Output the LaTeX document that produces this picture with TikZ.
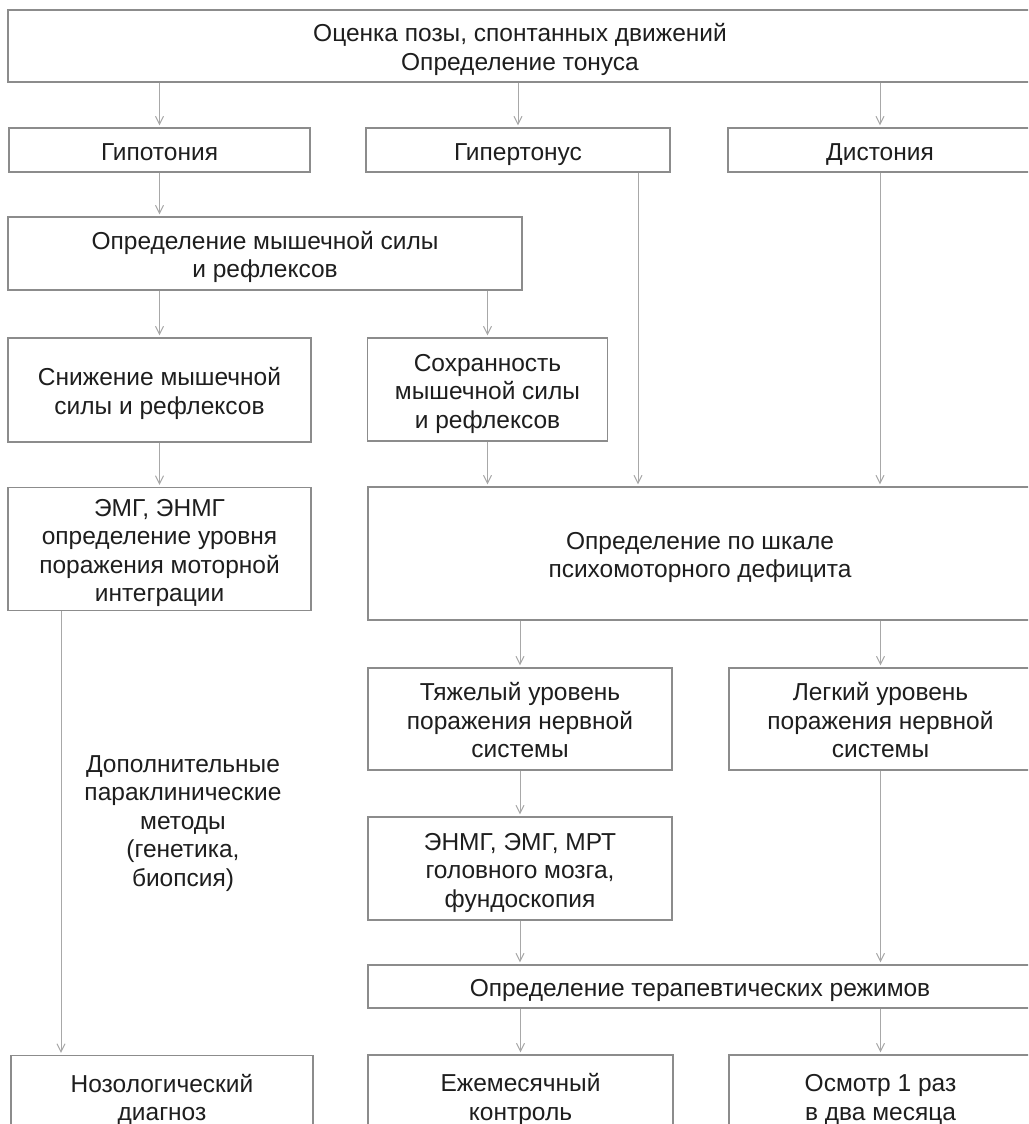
\documentclass[tikz,border=0pt]{standalone}
\usepackage{fontspec}
\setmainfont{Liberation Sans}
\usetikzlibrary{arrows.meta,calc}
\definecolor{boxline}{HTML}{8C8C8C}
\definecolor{arrline}{HTML}{A8A8A8}
\definecolor{txt}{HTML}{1E1E1E}
\newcommand{\bx}[1]{\begin{tabular}{@{}c@{}}\rule{0pt}{29pt}#1\end{tabular}}
\tikzset{
  box/.style={draw=boxline, line width=1.3pt, fill=white, text=txt,
    inner sep=0pt, font=\fontsize{24.5}{28.5}\selectfont},
  plain/.style={text=txt, inner sep=0pt, font=\fontsize{24.5}{28.5}\selectfont},
  arr/.style={draw=arrline, line width=1pt, -{Straight Barb[length=8pt,width=8pt]}, shorten >=2pt}
}
\begin{document}
\begin{tikzpicture}[x=1pt,y=-1pt]
\useasboundingbox (0,0) rectangle (1028,1124);
\clip (0,0) rectangle (1028,1124);
\fill[white] (0,0) rectangle (1028,1124);
% nodes
\node[box, minimum width=1024, minimum height=72] (top) at (520,46)
  {\bx{Оценка позы, спонтанных движений\\Определение тонуса}};
\node[box, minimum width=301, minimum height=44] (hypo) at (159.5,150) {\bx{Гипотония}};
\node[box, minimum width=304, minimum height=44] (hyper) at (518,150) {\bx{Гипертонус}};
\node[box, minimum width=304, minimum height=44] (dyst) at (880,150) {\bx{Дистония}};
\node[box, minimum width=514, minimum height=73] (strength) at (265,253.5)
  {\bx{Определение мышечной силы\\и рефлексов}};
\node[box, minimum width=303, minimum height=104] (decr) at (159.5,390)
  {\bx{Снижение мышечной\\силы и рефлексов}};
\node[box, minimum width=240, minimum height=103] (pres) at (487.5,389.5)
  {\bx{Сохранность\\мышечной силы\\и рефлексов}};
\node[box, minimum width=303, minimum height=122] (emg) at (159.5,549)
  {\bx{ЭМГ, ЭНМГ\\определение уровня\\поражения моторной\\интеграции}};
\node[box, minimum width=664, minimum height=133] (scale) at (700,553.5)
  {\bx{Определение по шкале\\психомоторного дефицита}};
\node[box, minimum width=304, minimum height=102] (severe) at (520,719)
  {\bx{Тяжелый уровень\\поражения нервной\\системы}};
\node[box, minimum width=303, minimum height=102] (mild) at (880.5,719)
  {\bx{Легкий уровень\\поражения нервной\\системы}};
\node[box, minimum width=304, minimum height=103] (enmg) at (520,868.5)
  {\bx{ЭНМГ, ЭМГ, МРТ\\головного мозга,\\фундоскопия}};
\node[box, minimum width=664, minimum height=43] (ther) at (700,986.5)
  {\bx{Определение терапевтических режимов}};
\node[box, minimum width=302, minimum height=82] (noso) at (162,1096.5)
  {\bx{Нозологический\\диагноз}};
\node[box, minimum width=305, minimum height=82] (monthly) at (520.5,1096)
  {\bx{Ежемесячный\\контроль}};
\node[box, minimum width=303, minimum height=82] (exam) at (880.5,1096)
  {\bx{Осмотр 1 раз\\в два месяца}};
\node[plain] (extra) at (183,819)
  {\bx{Дополнительные\\параклинические\\методы\\(генетика,\\биопсия)}};
% connectors
\draw[arr] (top.south -| hypo.north) -- (hypo.north);
\draw[arr] (top.south -| hyper.north) -- (hyper.north);
\draw[arr] (top.south -| dyst.north) -- (dyst.north);
\draw[arr] (hypo.south) -- (hypo.south |- strength.north);
\draw[arr] (strength.south -| decr.north) -- (decr.north);
\draw[arr] (strength.south -| pres.north) -- (pres.north);
\draw[arr] (decr.south) -- (emg.north);
\draw[arr] (pres.south) -- (pres.south |- scale.north);
\draw[arr] ([xshift=120pt]hyper.south) -- ([xshift=120pt]hyper.south |- scale.north);
\draw[arr] (dyst.south) -- (dyst.south |- scale.north);
\draw[arr] (scale.south -| severe.north) -- (severe.north);
\draw[arr] (scale.south -| mild.north) -- (mild.north);
\draw[arr] (severe.south) -- (enmg.north);
\draw[arr] (enmg.south) -- (enmg.south |- ther.north);
\draw[arr] (mild.south) -- (mild.south |- ther.north);
\draw[arr] (ther.south -| monthly.north) -- (monthly.north);
\draw[arr] (ther.south -| exam.north) -- (exam.north);
\draw[arr] ([xshift=-98.5pt]emg.south) -- ([xshift=-98.5pt]emg.south |- noso.north);
\end{tikzpicture}
\end{document}
